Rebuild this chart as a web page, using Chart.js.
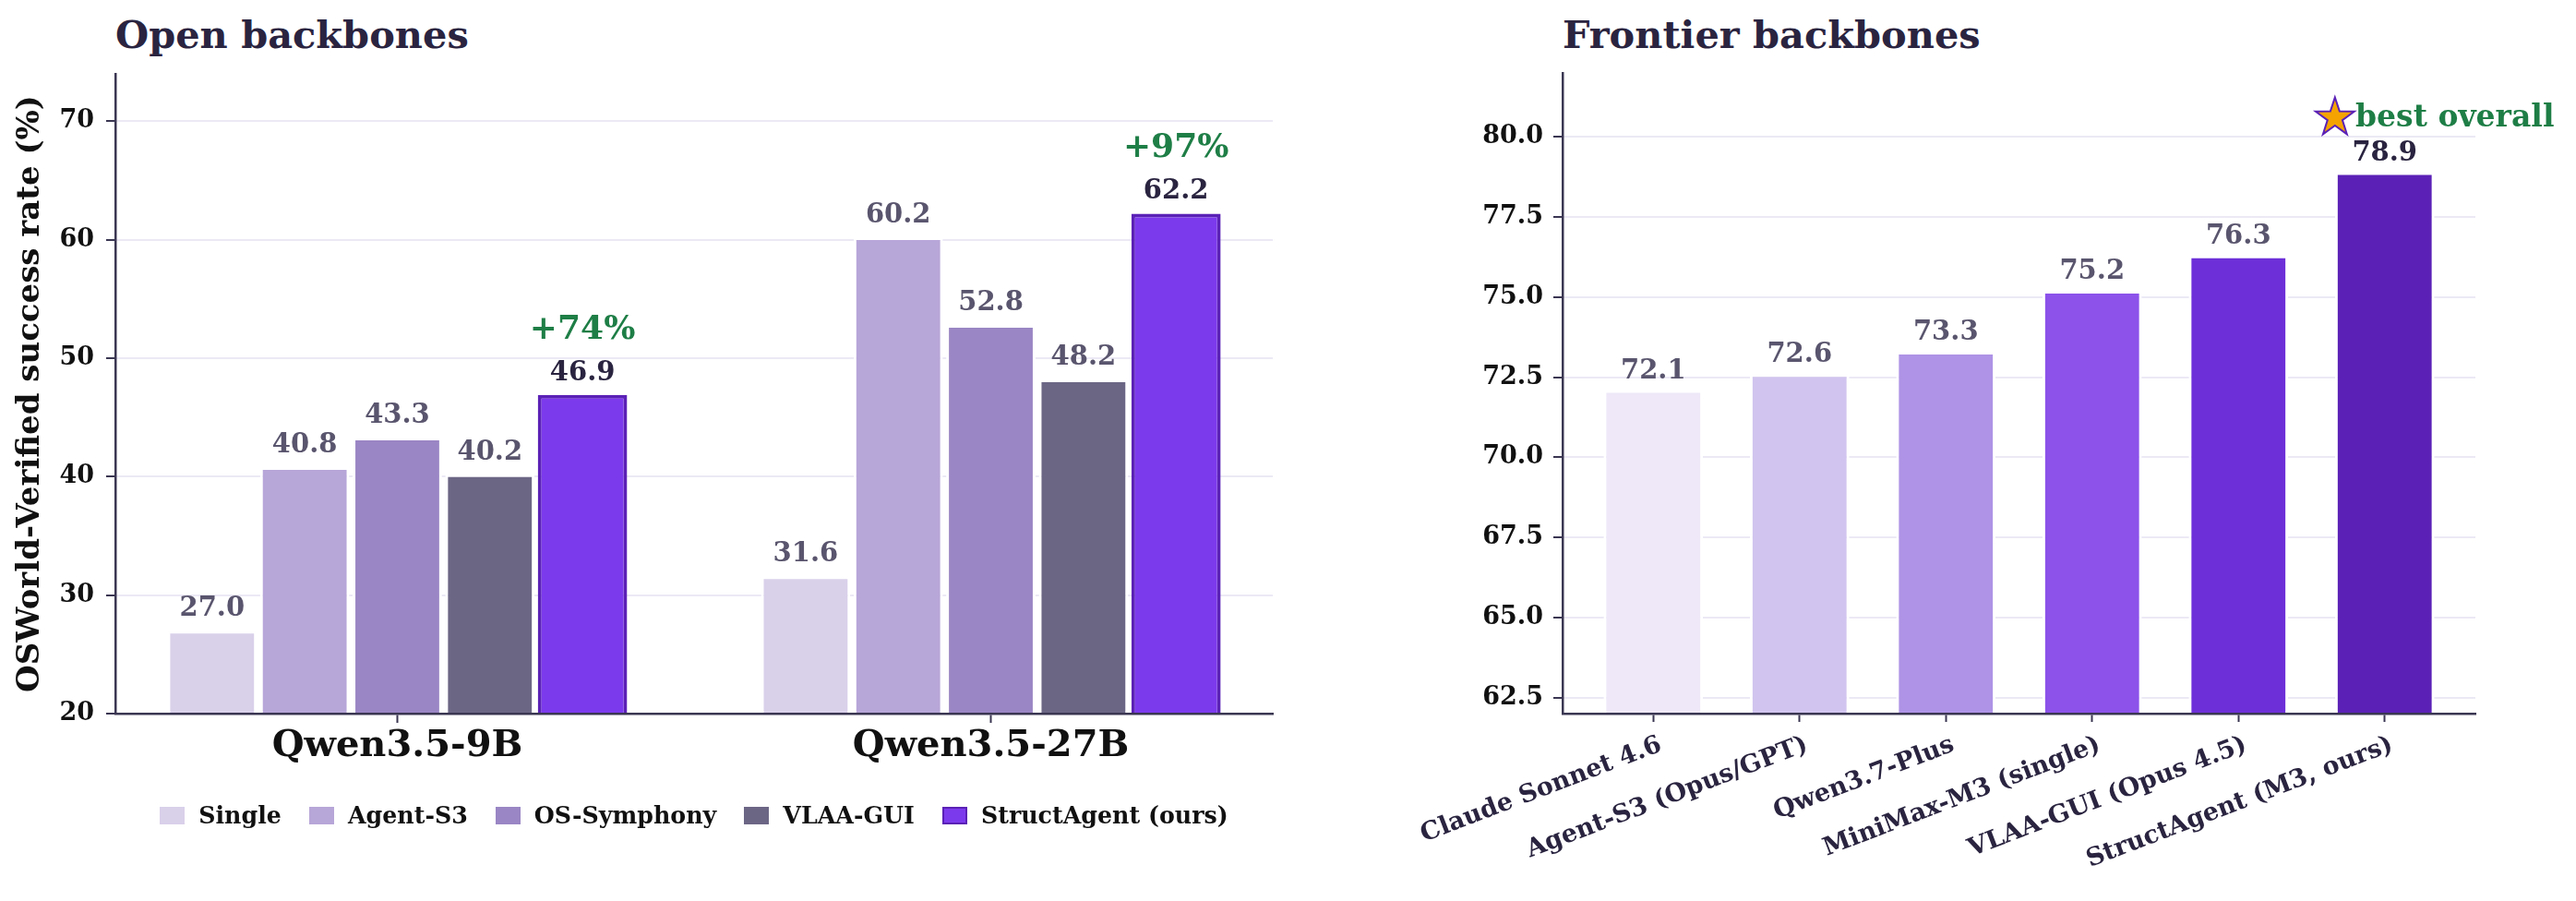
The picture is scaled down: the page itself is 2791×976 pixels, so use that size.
<!DOCTYPE html>
<html><head><meta charset="utf-8">
<script src="https://cdn.jsdelivr.net/npm/chart.js@4.4.1/dist/chart.umd.min.js"></script>
<style>
html,body{margin:0;padding:0;background:#fff;}
body{width:2791px;height:976px;position:relative;overflow:hidden;font-family:"DejaVu Serif",serif;}
.ttl{position:absolute;top:13px;font-weight:bold;font-size:41.5px;color:#2a2440;line-height:50px;white-space:nowrap;}
#w1{position:absolute;left:0;top:0;width:1420px;height:976px;}
#w2{position:absolute;left:1440px;top:0;width:1351px;height:976px;}
#legend{position:absolute;left:0;width:1504px;top:868px;height:30px;display:flex;justify-content:center;align-items:center;gap:30px;font-weight:bold;font-size:25.3px;color:#111;}
#legend .it{display:flex;align-items:center;white-space:nowrap;}
#legend .sw{width:27px;height:19px;margin-right:15px;box-sizing:border-box;}
</style>
</head><body>
<div class="ttl" style="left:125px">Open backbones</div>
<div class="ttl" style="left:1693px">Frontier backbones</div>
<div id="w1"><canvas id="c1" width="1420" height="976"></canvas></div>
<div id="w2"><canvas id="c2" width="1351" height="976"></canvas></div>
<div id="legend"></div>
<script>
// ---------- data ----------
const groups = ['Qwen3.5-9B', 'Qwen3.5-27B'];
const methods = ['Single', 'Agent-S3', 'OS-Symphony', 'VLAA-GUI', 'StructAgent (ours)'];
const single = [27.0, 31.6];
const agentS3 = [40.8, 60.2];
const osSymphony = [43.3, 52.8];
const vlaaGui = [40.2, 48.2];
const structAgent = [46.9, 62.2];
const openTicks = [20, 30, 40, 50, 60, 70];

const frontierModels = ['Claude Sonnet 4.6', 'Agent-S3 (Opus/GPT)', 'Qwen3.7-Plus', 'MiniMax-M3 (single)', 'VLAA-GUI (Opus 4.5)', 'StructAgent (M3, ours)'];
const frontierScores = [72.1, 72.6, 73.3, 75.2, 76.3, 78.9];
const frontierTicks = [62.5, 65.0, 67.5, 70.0, 72.5, 75.0, 77.5, 80.0];

// ---------- styles ----------
const FONT = '"DejaVu Serif", serif';
const methodColors = ['#d9d0ea', '#b7a6d8', '#9a86c4', '#6c6685', '#7c3aed'];
const frontierColors = ['#eee8f8', '#d1c4ee', '#ae93e6', '#8c52ea', '#6d2fd8', '#5b21b6'];
const AX = '#3a3652';
const GRID = '#ece9f5';
const GREEN = '#1e7e46';

Chart.defaults.font.family = FONT;
Chart.defaults.font.weight = 'bold';
Chart.defaults.color = '#111';

const methodSeries = [single, agentS3, osSymphony, vlaaGui, structAgent];

// legend (HTML)
const lg = document.getElementById('legend');
methods.forEach((m, i) => {
  const it = document.createElement('div'); it.className = 'it';
  const sw = document.createElement('div'); sw.className = 'sw';
  sw.style.background = methodColors[i];
  if (i === 4) sw.style.border = '2px solid #5b21b6';
  const tx = document.createElement('span'); tx.textContent = m;
  it.appendChild(sw); it.appendChild(tx); lg.appendChild(it);
});

const openLabels = {
  id: 'openLabels',
  afterDatasetsDraw(chart) {
    const ctx = chart.ctx;
    ctx.save();
    ctx.textAlign = 'center';
    ctx.textBaseline = 'alphabetic';
    chart.data.datasets.forEach((ds, di) => {
      const meta = chart.getDatasetMeta(di);
      meta.data.forEach((bar, i) => {
        const v = ds.data[i].y;
        ctx.font = 'bold 29px ' + FONT;
        ctx.fillStyle = di === 4 ? '#2a2440' : '#5a556e';
        ctx.fillText(v.toFixed(1), bar.x, bar.y - 16);
        if (di === 4) {
          const gain = Math.round((v / single[i] - 1) * 100);
          ctx.font = 'bold 36px ' + FONT;
          ctx.fillStyle = GREEN;
          ctx.fillText('+' + gain + '%', bar.x, bar.y - 61);
        }
      });
    });
    ctx.restore();
  }
};

const frontierLabels = {
  id: 'frontierLabels',
  afterDatasetsDraw(chart) {
    const ctx = chart.ctx;
    const meta = chart.getDatasetMeta(0);
    const xs = chart.scales.x, ys = chart.scales.y;
    ctx.save();
    ctx.textAlign = 'center';
    ctx.textBaseline = 'alphabetic';
    const last = frontierScores.length - 1;
    meta.data.forEach((bar, i) => {
      ctx.font = 'bold 29px ' + FONT;
      ctx.fillStyle = i === last ? '#2a2440' : '#5a556e';
      ctx.fillText(frontierScores[i].toFixed(1), bar.x, bar.y - 13);
    });
    // star annotation on the best bar
    const sx = xs.getPixelForValue(last - 0.34);
    const sy = ys.getPixelForValue(frontierScores[last] + 1.76);
    const R = 22, r = 8.5;
    ctx.beginPath();
    for (let k = 0; k < 10; k++) {
      const rad = k % 2 === 0 ? R : r;
      const a = -Math.PI / 2 + k * Math.PI / 5;
      const px = sx + rad * Math.cos(a), py = sy + rad * Math.sin(a) + 2;
      if (k === 0) ctx.moveTo(px, py); else ctx.lineTo(px, py);
    }
    ctx.closePath();
    ctx.fillStyle = '#f5a300';
    ctx.fill();
    ctx.lineWidth = 2;
    ctx.strokeStyle = '#5b21b6';
    ctx.stroke();
    ctx.font = 'bold 33px ' + FONT;
    ctx.fillStyle = GREEN;
    ctx.textAlign = 'left';
    ctx.textBaseline = 'middle';
    ctx.fillText('best overall', xs.getPixelForValue(last - 0.2), ys.getPixelForValue(frontierScores[last] + 1.68));
    ctx.restore();
  }
};

function yAxis(min, max, ticks, width, pad, fmt, title) {
  return {
    type: 'linear', min, max, beginAtZero: false,
    afterBuildTicks: s => { s.ticks = ticks.map(v => ({ value: v })); },
    afterFit: s => { s.width = width; },
    ticks: { font: { size: 27, weight: 'bold' }, color: '#111', padding: pad, callback: fmt },
    grid: { color: GRID, lineWidth: 2, drawTicks: true, tickLength: 10, tickColor: AX, tickWidth: 2 },
    border: { color: AX, width: 2.5, z: 1 },
    title: title
  };
}

// ---------- left chart ----------
new Chart(document.getElementById('c1'), {
  type: 'bar',
  data: {
    datasets: methods.map((m, di) => ({
      label: m,
      data: methodSeries[di].map((v, i) => ({ x: i, y: v })),
      backgroundColor: methodColors[di],
      borderColor: di === 4 ? '#5b21b6' : '#ffffff',
      borderWidth: di === 4 ? 4 : 3,
      borderSkipped: false,
      categoryPercentage: 0.78,
      barPercentage: 0.965
    }))
  },
  options: {
    responsive: false, animation: false, devicePixelRatio: 1,
    layout: { padding: { top: 80, left: 0, right: 41, bottom: 3 } },
    plugins: { legend: { display: false }, tooltip: { enabled: false } },
    scales: {
      x: {
        type: 'linear', min: -0.475, max: 1.475, offset: false,
        afterBuildTicks: s => { s.ticks = groups.map((g, i) => ({ value: i })); },
        afterFit: s => { s.height = 200; },
        ticks: { font: { size: 40, weight: 'bold' }, color: '#111', padding: 2, maxRotation: 0, minRotation: 0,
          callback: v => groups[v] },
        grid: { offset: false, drawOnChartArea: false, drawTicks: true, tickLength: 10, tickColor: AX, tickWidth: 2 },
        border: { color: AX, width: 2.5, z: 1 }
      },
      y: yAxis(20, 74, openTicks, 125, 13, v => String(v), {
        display: true, text: 'OSWorld-Verified success rate (%)',
        font: { size: 34, weight: 'bold' }, color: '#111', padding: { top: 13, bottom: 0 }
      })
    }
  },
  plugins: [openLabels]
});

// ---------- right chart ----------
new Chart(document.getElementById('c2'), {
  type: 'bar',
  data: {
    datasets: [{
      label: 'Frontier',
      data: frontierScores.map((v, i) => ({ x: i, y: v })),
      backgroundColor: frontierColors,
      borderColor: '#ffffff',
      borderWidth: 3,
      borderSkipped: false,
      categoryPercentage: 1,
      barPercentage: 0.68
    }]
  },
  options: {
    responsive: false, animation: false, devicePixelRatio: 1,
    layout: { padding: { top: 79, left: 0, right: 109, bottom: 3 } },
    plugins: { legend: { display: false }, tooltip: { enabled: false } },
    scales: {
      x: {
        type: 'linear', min: -0.62, max: 5.62, offset: false,
        afterBuildTicks: s => { s.ticks = frontierModels.map((g, i) => ({ value: i })); },
        afterFit: s => { s.height = 200; },
        ticks: { font: { size: 27, weight: 'bold' }, color: '#2a2440', padding: 9, labelOffset: 8,
          maxRotation: 21, minRotation: 21, autoSkip: false,
          callback: v => frontierModels[v] },
        grid: { offset: false, drawOnChartArea: false, drawTicks: true, tickLength: 9, tickColor: AX, tickWidth: 2 },
        border: { color: AX, width: 2.5, z: 1 }
      },
      y: yAxis(62, 82, frontierTicks, 253, 11, v => Number(v).toFixed(1), { display: false })
    }
  },
  plugins: [frontierLabels]
});
</script>
</body></html>
